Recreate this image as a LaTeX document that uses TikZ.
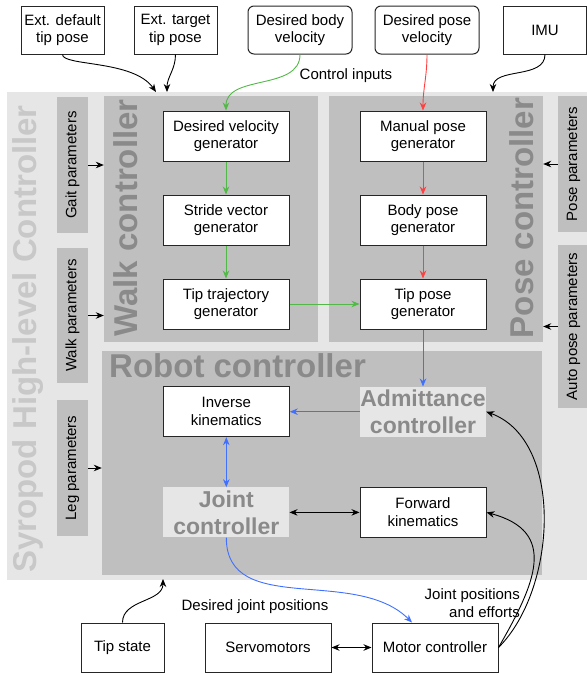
\documentclass[tikz,border=0pt]{standalone}
\usepackage{fontspec}
\setmainfont{Liberation Sans}
\usetikzlibrary{positioning,arrows.meta}

\definecolor{bgouter}{RGB}{230,230,230}
\definecolor{bgpanel}{RGB}{191,191,191}
\definecolor{txtpanel}{RGB}{138,138,138}
\definecolor{txtouter}{RGB}{200,200,200}
\definecolor{walkgreen}{RGB}{82,184,72}
\definecolor{posered}{RGB}{255,64,64}
\definecolor{robotblue}{RGB}{64,112,255}

\newcommand{\boxfont}{\fontsize{15}{17.6}\selectfont}
\newcommand{\bigtitle}{\bfseries\fontsize{33}{38}\selectfont}
\newcommand{\midtitle}{\bfseries\fontsize{23}{27}\selectfont}

\tikzset{
  block/.style={draw=black!85, line width=1pt, fill=white, minimum width=126pt,
    minimum height=50pt, align=center, font=\boxfont, inner sep=2pt},
  source/.style={block, minimum width=83pt, minimum height=48pt},
  cmd/.style={source, rounded corners=6pt, minimum width=104pt},
  panel/.style={fill=bgpanel, inner sep=0pt},
  param/.style={fill=bgpanel, rotate=90, minimum height=31pt, font=\boxfont, inner sep=0pt},
  ctrltitle/.style={font=\bigtitle, text=txtpanel, inner sep=0pt},
  subctrl/.style={fill=bgouter, minimum width=126pt, minimum height=50pt, align=center,
    font=\midtitle, text=txtpanel, inner sep=0pt},
  note/.style={font=\boxfont, inner sep=0pt},
  link/.style={-{Stealth[length=8pt,width=6.5pt]}, line width=0.9pt},
  twoway/.style={{Stealth[length=8pt,width=6.5pt]}-{Stealth[length=8pt,width=6.5pt]}, line width=0.9pt},
}

\begin{document}
\begin{tikzpicture}[x=1pt,y=-1pt]
  \useasboundingbox (0,0) rectangle (587,673);

  % Containers
  \fill[bgouter] (7,92) rectangle (587,580);
  \node[panel, minimum width=214pt, minimum height=246pt] (walk) at (211,219) {};
  \node[panel, minimum width=214pt, minimum height=246pt] (pose) at (436,219) {};
  \node[panel, minimum width=440pt, minimum height=224pt] (robot) at (322,463) {};

  \node[ctrltitle, text=txtouter, rotate=90, anchor=base] (hlc) at (36,339) {Syropod High-level Controller};
  \node[ctrltitle, rotate=90, anchor=base] (walkt) at (137,218) {Walk controller};
  \node[ctrltitle, rotate=90, anchor=base] (poset) at (533,218) {Pose controller};
  \node[ctrltitle, anchor=base west] (robott) at (109,377) {Robot controller};

  % Parameters
  \node[param, minimum width=136pt] (gait) at (72.5,165) {Gait parameters};
  \node[param, minimum width=135pt] (walkp) at (72.5,315.5) {Walk parameters};
  \node[param, minimum width=136pt] (legp) at (72.5,468) {Leg parameters};
  \node[param, minimum width=136pt] (posep) at (573.5,164) {Pose parameters};
  \node[param, minimum width=163pt] (autop) at (573.5,326.5) {Auto pose parameters};

  % Inputs
  \node[source] (edb) at (62.5,30) {Ext. default\\tip pose};
  \node[source] (etb) at (175.5,30) {Ext. target\\tip pose};
  \node[cmd] (dbv) at (300,30) {Desired body\\velocity};
  \node[cmd] (dpv) at (427,30) {Desired pose\\velocity};
  \node[source] (imu) at (545,30) {IMU};
  \node[note] (ci) at (346,76) {Control inputs};

  % Generators
  \node[block] (dvg) at (226,136) {Desired velocity\\generator};
  \node[block, below=33pt of dvg] (svg) {Stride vector\\generator};
  \node[block, below=33pt of svg] (ttg) {Tip trajectory\\generator};
  \node[block, right=70pt of dvg] (mpg) {Manual pose\\generator};
  \node[block, below=33pt of mpg] (bpg) {Body pose\\generator};
  \node[block, below=33pt of bpg] (tpg) {Tip pose\\generator};

  % Robot controller
  \node[subctrl, below=57pt of tpg] (adm) {Admittance\\controller};
  \node[block, left=70pt of adm] (ik) {Inverse\\kinematics};
  \node[block, below=50pt of adm] (fk) {Forward\\kinematics};
  \node[subctrl] (jc) at (ik |- fk) {Joint\\controller};

  % Hardware
  \node[source, minimum height=49pt] (ts) at (122.5,647.5) {Tip state};
  \node[block, minimum height=49pt] (servo) at (268,647.5) {Servomotors};
  \node[block, minimum height=49pt] (mc) at (435,647.5) {Motor controller};
  \node[note] (djp) at (255,607) {Desired joint positions};
  \node[note, align=right, anchor=east] (jpe) at (520,603) {Joint positions\\and efforts};

  \coordinate (in1) at (156,92);
  \coordinate (in2) at (167,92);
  \coordinate (imuin) at (493,92);
  \coordinate (tipin) at (163,579);

  % Connect the nodes
  \draw[link] (edb) to[out=-90,in=125,out looseness=0.3] (in1);
  \draw[link] (etb) to[out=-90,in=90] (in2);
  \draw[link] (imu) to[out=-90,in=90] (imuin);
  \draw[link] (ts) to[out=90,in=-90] (tipin);

  \draw[link] (gait) -- (gait -| walk.west);
  \draw[link] (walkp) -- (walkp -| walk.west);
  \draw[link] (legp) -- (legp -| robot.west);
  \draw[link] (posep) -- (posep -| pose.east);
  \draw[link] (autop) -- (autop -| pose.east);

  \draw[link, walkgreen] (dbv) to[out=-90,in=90] (dvg);
  \draw[link, walkgreen] (dvg) -- (svg);
  \draw[link, walkgreen] (svg) -- (ttg);
  \draw[link, walkgreen] (ttg) -- (tpg);

  \draw[link, posered] (dpv) to[out=-90,in=90] (mpg);
  \draw[link, posered] (mpg) -- (bpg);
  \draw[link, posered] (bpg) -- (tpg);

  \draw[link, robotblue] (tpg) -- (adm);
  \draw[link, robotblue] (adm) -- (ik);
  \draw[twoway, robotblue] (ik) -- (jc);
  \draw[link, robotblue] (jc) to[out=-90,in=135] ([xshift=-23pt]mc.north);

  \draw[twoway] (jc) -- (fk);
  \draw[twoway] (servo) -- (mc);
  \draw[link] (mc.east) to[out=45,in=-20,looseness=0.9] (adm.east);
  \draw[link] (mc.east) to[out=60,in=-15,looseness=1.4] (fk.east);

\end{tikzpicture}
\end{document}
